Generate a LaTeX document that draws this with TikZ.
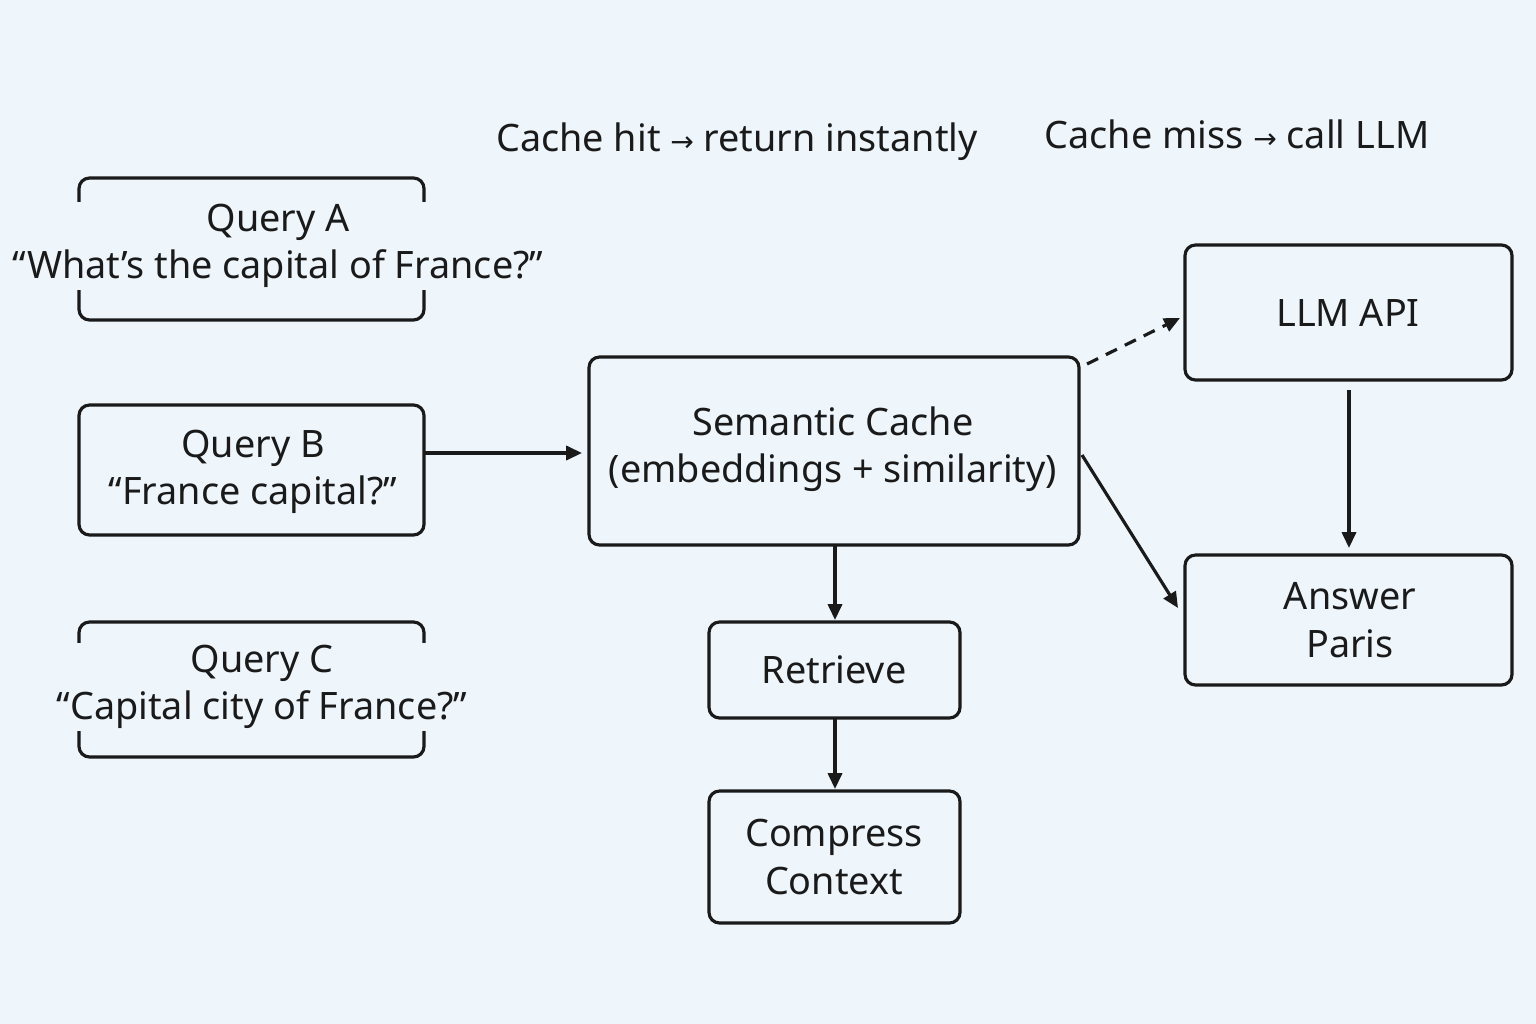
\documentclass[tikz,border=0pt]{standalone}
\usepackage{fontspec}
\setmainfont{Noto Sans}
\newfontfamily\symf{DejaVu Sans}
\usetikzlibrary{arrows.meta}
\definecolor{bg}{HTML}{EEF6FC}
\definecolor{ink}{HTML}{1A1A1A}
\begin{document}
\begin{tikzpicture}[x=0.02cm,y=-0.02cm,
  box/.style={draw=ink,line width=1.8pt,rounded corners=6pt,fill=bg},
  txt/.style={text=ink,font=\fontsize{21.5}{27}\selectfont,align=center},
  arr/.style={draw=ink,line width=1.8pt,-{Triangle[length=9pt,width=8pt]}}]
\fill[bg] (0,0) rectangle (1536,1024);
\useasboundingbox (0,0) rectangle (1536,1024);
% query boxes
\draw[box] (79,178) rectangle (424,320);
\node[txt,fill=bg,inner sep=1pt] (qa) at (278,246) {Query A\\“What’s the capital of France?”};
\draw[box] (79,405) rectangle (424,535);
\node[txt] (qb) at (253,472) {Query B\\“France capital?”};
\coordinate (qbr) at (424,453);
\draw[box] (79,622) rectangle (424,757);
\node[txt,fill=bg,inner sep=1pt] (qc) at (262,687) {Query C\\“Capital city of France?”};
% semantic cache
\draw[box] (589,357) rectangle (1079,545);
\node[txt] (sc) at (833,449) {Semantic Cache\\(embeddings + similarity)};
\coordinate (scl) at (582,453);
\coordinate (scb) at (835,545);
\coordinate (scr) at (1082,455);
\coordinate (sct) at (1087,364);
% LLM API and answer
\draw[box] (1185,245) rectangle (1512,380);
\node[txt] (llm) at (1348,313) {LLM API};
\coordinate (llml) at (1180,318);
\coordinate (llmb) at (1349,390);
\draw[box] (1185,555) rectangle (1512,685);
\node[txt] (ans) at (1350,620) {Answer\\Paris};
\coordinate (anst) at (1349,548);
\coordinate (ansl) at (1178,608);
% retrieve, compress
\draw[box] (709,622) rectangle (960,718);
\node[txt] (ret) at (834,670) {Retrieve};
\coordinate (rett) at (835,620);
\coordinate (retb) at (835,718);
\draw[box] (709,791) rectangle (960,923);
\node[txt] (cmp) at (834,857) {Compress\\Context};
\coordinate (cmpt) at (835,789);
% labels
\node[txt] (hit) at (737,142) {Cache hit {\symf\fontsize{16}{20}\selectfont →} return instantly};
\node[txt] (miss) at (1237,134) {Cache miss {\symf\fontsize{16}{20}\selectfont →} call LLM};
% arrows
\draw[arr] (qbr) -- (scl);
\draw[arr,dash pattern=on 7pt off 5pt] (sct) -- (llml);
\draw[arr] (scr) -- (ansl);
\draw[arr] (llmb) -- (anst);
\draw[arr] (scb) -- (rett);
\draw[arr] (retb) -- (cmpt);
\end{tikzpicture}
\end{document}
